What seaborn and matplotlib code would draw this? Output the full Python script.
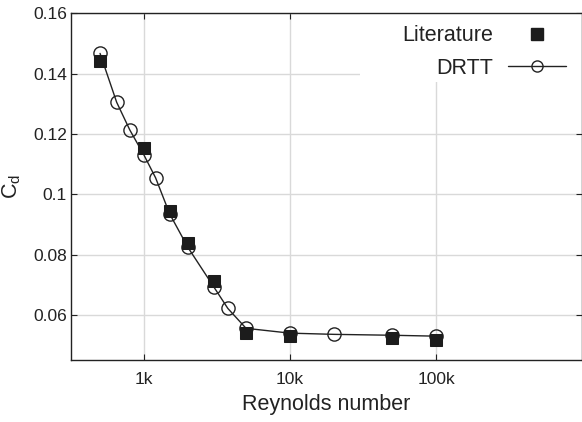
import matplotlib
matplotlib.use("Agg")
import matplotlib.pyplot as plt
from matplotlib.patches import Rectangle
from matplotlib.lines import Line2D
import seaborn as sns

# data
lit_re = [500, 1000, 1500, 2000, 3000, 5000, 10000, 50000, 100000]
lit_cd = [0.1443, 0.1153, 0.0946, 0.0838, 0.0714, 0.0539, 0.0530, 0.0523, 0.0517]

drtt_re = [500, 650, 800, 1000, 1200, 1500, 2000, 3000, 3750, 5000,
           10000, 20000, 50000, 100000]
drtt_cd = [0.1467, 0.1305, 0.1213, 0.1130, 0.1055, 0.0935, 0.0824, 0.0694,
           0.0622, 0.0556, 0.0540, 0.0536, 0.0533, 0.0530]

x_ticks = [1e3, 1e4, 1e5]
x_ticklabels = ["1k", "10k", "100k"]
y_ticks = [0.06, 0.08, 0.10, 0.12, 0.14, 0.16]
y_ticklabels = ["0.06", "0.08", "0.1", "0.12", "0.14", "0.16"]

sns.set_style("ticks")
plt.rcParams["font.family"] = ["Liberation Sans", "DejaVu Sans"]
plt.rcParams["mathtext.fontset"] = "custom"
plt.rcParams["mathtext.rm"] = "Liberation Sans"
plt.rcParams["mathtext.it"] = "Liberation Sans"

dark = "#222222"

fig = plt.figure(figsize=(5.82, 4.22), dpi=100)
ax = fig.add_axes([0.122, 0.1462, 0.878, 0.8223])

# DRTT: line with open circles
sns.lineplot(x=drtt_re, y=drtt_cd, ax=ax, color=dark, linewidth=1.0,
             marker="o", markersize=9.5, markerfacecolor="none",
             markeredgecolor=dark, markeredgewidth=1.0, zorder=3)
# Literature: filled squares on top
sns.lineplot(x=lit_re, y=lit_cd, ax=ax, color=dark, linestyle="",
             marker="s", markersize=8.5, markerfacecolor="#1c1c1c",
             markeredgecolor="#1c1c1c", zorder=4)

ax.set_xscale("log")
ax.set_xlim(10 ** 2.5, 1e6)
ax.set_ylim(0.045, 0.16)
ax.set_xticks(x_ticks)
ax.set_xticklabels(x_ticklabels)
ax.xaxis.set_minor_locator(matplotlib.ticker.NullLocator())
ax.set_yticks(y_ticks)
ax.set_yticklabels(y_ticklabels)

ax.grid(True, color="#d9d9d9", linewidth=1.0)
ax.set_axisbelow(True)

for s in ax.spines.values():
    s.set_visible(True)
    s.set_color(dark)
    s.set_linewidth(1.0)

ax.tick_params(axis="both", which="major", direction="in", length=4,
               width=0.8, color=dark, top=True, right=True,
               labelsize=12.5, labelcolor=dark)
ax.tick_params(axis="x", pad=8.5)
ax.tick_params(axis="y", pad=3)

ax.set_xlabel("Reynolds number", fontsize=15.5, color=dark, labelpad=5)
ax.set_ylabel(r"$\mathregular{C_d}$", fontsize=15.5, color=dark, labelpad=7)

# white background behind the legend (hides grid there)
ax.add_patch(Rectangle((0.5656, 0.802), 0.4344, 0.198, transform=ax.transAxes,
                       facecolor="white", edgecolor="none", zorder=1))

h_lit = Line2D([], [], linestyle="", marker="s", markersize=8.5,
               markerfacecolor="#1c1c1c", markeredgecolor="#1c1c1c")
h_drtt = Line2D([], [], color=dark, linewidth=1.0, marker="o", markersize=8,
                markerfacecolor="none", markeredgecolor=dark)
ax.legend([h_lit, h_drtt], ["Literature", "DRTT"], loc="upper right",
          bbox_to_anchor=(0.9687, 0.966), borderaxespad=0, borderpad=0,
          frameon=False, markerfirst=False, fontsize=15.5,
          handlelength=2.7, handletextpad=0.7, labelspacing=0.54,
          labelcolor=dark)

fig.savefig("out.png", dpi=100)
